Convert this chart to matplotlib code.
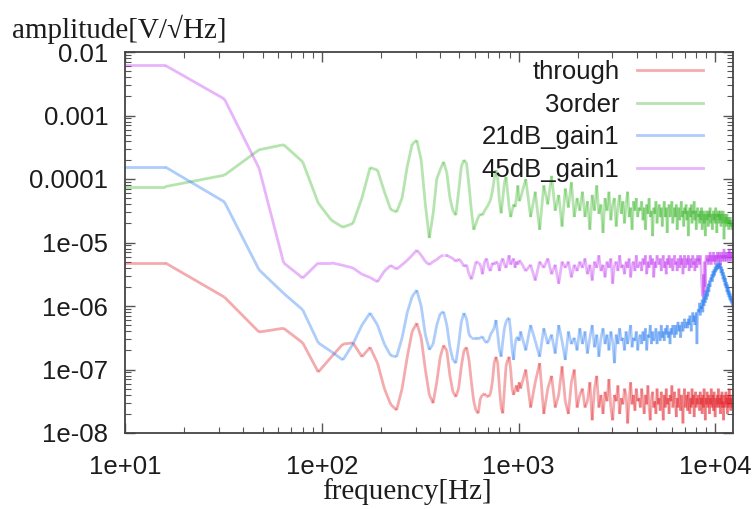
import numpy as np
import matplotlib
matplotlib.use("Agg")
import matplotlib.pyplot as plt
from matplotlib.collections import LineCollection
from matplotlib.lines import Line2D
from matplotlib.ticker import FixedLocator, FixedFormatter, LogLocator, NullFormatter

# ---------------- data (log10 of amplitude in V/sqrt(Hz)) ----------------
freq_low = [8] + list(range(16, 1024, 16))      # Hz
freq_high = list(range(1024, 12289, 64))        # Hz

through_low = [-5.32, -5.32, -5.86, -6.41, -6.35, -6.58, -7.04, -6.80, -6.60, -6.58,
               -6.80, -6.65, -6.90, -7.30, -7.55, -7.64, -7.30, -6.80, -6.40, -6.27,
               -6.50, -7.00, -7.40, -7.53, -7.20, -6.80, -6.62, -6.70, -7.10, -7.35,
               -7.43, -7.30, -6.95, -6.70, -6.65, -6.85, -7.20, -7.50, -7.65, -7.69,
               -7.45, -7.40, -7.38, -7.42, -7.43, -7.38, -7.20, -6.90, -6.80, -6.90,
               -7.30, -7.60, -7.69, -7.30, -6.95, -6.85, -6.80, -7.00, -7.30, -7.40,
               -7.32, -7.25, -7.35, -7.20]
through_high = [-7.3, -7.0, -7.6, -7.2, -6.9, -7.7, -7.3, -7.1, -7.6, -7.4, -6.95, -7.5, -7.7, -7.2, -7.0, -7.6, -7.4,
                -7.3, -7.6, -7.5, -7.2, -7.8, -7.3, -7.1, -7.6, -7.4, -7.7, -7.35, -7.5, -7.15, -7.6, -7.8, -7.4,
                -7.5, -7.25, -7.7, -7.45, -7.55, -7.3, -7.4, -7.85, -7.5, -7.2, -7.55, -7.4, -7.65, -7.3, -7.5, -7.45,
                -7.6, -7.3, -7.5, -7.7, -7.4, -7.55, -7.25, -7.6, -7.8, -7.45, -7.35, -7.6, -7.5, -7.7, -7.3, -7.55,
                -7.45, -7.65, -7.35, -7.5, -7.8, -7.4, -7.6, -7.3, -7.55, -7.45, -7.7, -7.4, -7.5, -7.25, -7.6, -7.5,
                -7.35, -7.55, -7.75, -7.45, -7.6, -7.3, -7.5, -7.65, -7.4, -7.55, -7.85, -7.45, -7.3, -7.6, -7.5, -7.4,
                -7.65, -7.35, -7.5, -7.7, -7.45, -7.6, -7.3, -7.55, -7.4, -7.75, -7.5, -7.35, -7.6, -7.45, -7.55, -7.4,
                -7.5, -7.65, -7.35, -7.55, -7.45, -7.7, -7.4, -7.6, -7.3, -7.5, -7.8, -7.45, -7.55, -7.35, -7.6, -7.5,
                -7.4, -7.7, -7.45, -7.55, -7.3, -7.6, -7.5, -7.4, -7.65, -7.35, -7.55, -7.75, -7.45, -7.5, -7.6, -7.4,
                -7.55, -7.3, -7.6, -7.5, -7.45, -7.7, -7.4, -7.55, -7.35, -7.6, -7.5, -7.8, -7.45, -7.4, -7.6, -7.5,
                -7.35, -7.55, -7.45, -7.7, -7.4, -7.6, -7.5, -7.3, -7.55, -7.45, -7.65, -7.4, -7.5, -7.6, -7.45, -7.5]

order3_low = [-4.12, -4.12, -3.94, -3.54, -3.46, -3.73, -4.38, -4.65, -4.76, -4.70,
              -4.30, -3.82, -3.86, -4.20, -4.48, -4.52, -4.30, -3.80, -3.45, -3.39,
              -3.70, -4.40, -4.93, -4.55, -4.00, -3.85, -3.73, -3.90, -4.30, -4.50,
              -4.57, -4.20, -3.80, -3.70, -3.75, -4.10, -4.50,
              -4.80, -4.70, -4.60, -4.55, -4.57, -4.50, -4.45, -4.40, -4.33, -4.20,
              -4.00, -3.86, -4.00, -4.35, -4.54, -4.30, -4.05, -3.97, -4.20, -4.45,
              -4.60, -4.50, -4.40, -4.44, -4.30, -4.10, -4.35]
order3_high = [-4.3, -4.0, -4.6, -4.2, -4.8, -4.1, -4.4, -3.95, -4.5, -4.25, -4.75, -4.15, -4.45, -4.05, -4.6, -4.3, -4.5,
               -4.2, -4.6, -4.35, -4.8, -4.25, -4.5, -4.1, -4.55, -4.4, -4.85, -4.3, -4.5, -4.2, -4.65, -4.4, -4.3,
               -4.75, -4.45, -4.25, -4.55, -4.35, -4.7, -4.4, -4.2, -4.6, -4.45, -4.8, -4.35, -4.5, -4.3, -4.6, -4.45,
               -4.5, -4.35, -4.65, -4.45, -4.8, -4.4, -4.55, -4.3, -4.6, -4.5, -4.9, -4.45, -4.55, -4.35, -4.7, -4.5,
               -4.4, -4.6, -4.45, -4.75, -4.5, -4.35, -4.6, -4.45, -4.85, -4.5, -4.4, -4.6, -4.5, -4.35, -4.7, -4.55,
               -4.45, -4.6, -4.4, -4.8, -4.55, -4.45, -4.65, -4.5, -4.35, -4.6, -4.5, -4.75, -4.45, -4.55, -4.4, -4.65,
               -4.5, -4.9, -4.55, -4.45, -4.6, -4.4, -4.7, -4.5, -4.55, -4.35, -4.65, -4.5, -4.8, -4.55, -4.45, -4.6,
               -4.55, -4.7, -4.5, -4.65, -4.45, -4.8, -4.6, -4.5, -4.7, -4.55, -4.9, -4.6, -4.5, -4.65, -4.55, -4.75,
               -4.5, -4.6, -4.45, -4.7, -4.6, -4.55, -4.8, -4.6, -4.5, -4.65, -4.55, -4.7, -4.45, -4.6, -4.85, -4.55,
               -4.6, -4.5, -4.7, -4.55, -4.65, -4.5, -4.75, -4.6, -4.55, -4.7, -4.5, -4.6, -4.95, -4.65, -4.55, -4.7,
               -4.6, -4.75, -4.55, -4.65, -4.7, -4.6, -4.8, -4.65, -4.7, -4.6, -4.75, -4.65, -4.7, -4.8, -4.7, -4.75]

gain21_low = [-3.81, -3.81, -4.36, -5.43, -5.80, -6.06, -6.58, -6.72, -6.85, -6.60,
              -6.30, -6.11, -6.30, -6.60, -6.78, -6.80, -6.50, -6.10, -5.85, -5.75,
              -6.00, -6.45, -6.69, -6.60, -6.30, -6.12, -6.09, -6.30, -6.65, -6.85,
              -6.90, -6.60, -6.25, -6.11, -6.20, -6.45, -6.50, -6.50, -6.50, -6.52,
              -6.50, -6.48, -6.55, -6.58, -6.55, -6.45,
              -6.40, -6.35, -6.22, -6.45, -6.70, -6.80, -6.55, -6.35, -6.25, -6.20,
              -6.19, -6.40, -6.70, -6.85, -6.60, -6.50, -6.49, -6.55]
gain21_high = [-6.4, -6.7, -6.3, -6.55, -6.8, -6.35, -6.6, -6.45, -6.75, -6.3, -6.55, -6.85, -6.4, -6.6, -6.5, -6.7, -6.35,
               -6.6, -6.4, -6.75, -6.5, -6.3, -6.65, -6.45, -6.8, -6.5, -6.35, -6.6, -6.45, -6.7, -6.4, -6.55, -6.9,
               -6.45, -6.6, -6.35, -6.55, -6.5, -6.7, -6.4, -6.6, -6.45, -6.3, -6.65, -6.5, -6.55, -6.4, -6.7, -6.5,
               -6.45, -6.6, -6.4, -6.55, -6.35, -6.7, -6.45, -6.5, -6.3, -6.6, -6.4, -6.55, -6.5, -6.35, -6.6, -6.45,
               -6.4, -6.55, -6.3, -6.5,
               -6.4, -6.55, -6.35, -6.45, -6.3, -6.5, -6.4, -6.6, -6.35, -6.45, -6.3, -6.4, -6.5, -6.3, -6.45, -6.35,
               -6.25, -6.4, -6.3, -6.5, -6.35, -6.25, -6.4, -6.3, -6.2, -6.35, -6.3,
               -6.25, -6.35, -6.2, -6.3, -6.15, -6.25, -6.4, -6.2, -6.1, -6.25, -6.15, -6.3, -6.2, -6.1, -6.6, -6.15,
               -6.05,
               -6.1, -5.95, -6.15, -6.0, -6.05, -5.9, -6.1, -5.85, -6.0, -5.8, -5.95, -5.75, -5.9, -5.7, -5.85, -5.65,
               -5.78, -5.6, -5.7, -5.55,
               -5.6, -5.5, -5.62, -5.45, -5.55, -5.42, -5.52, -5.38, -5.47, -5.35, -5.44, -5.33, -5.42, -5.3, -5.4, -5.33,
               -5.42, -5.33, -5.48, -5.38, -5.52, -5.42, -5.58, -5.47, -5.62, -5.52, -5.68, -5.56, -5.72, -5.62, -5.78,
               -5.66, -5.82, -5.7, -5.86, -5.76, -5.9, -5.8, -5.93, -5.84, -5.96, -5.88, -6.0, -5.95]

gain45_low = [-2.21, -2.21, -2.74, -3.83, -5.32, -5.56, -5.32, -5.32, -5.36, -5.40,
              -5.50, -5.55, -5.62, -5.45, -5.36, -5.42, -5.35, -5.28, -5.20, -5.12,
              -5.20, -5.30, -5.35, -5.30, -5.27, -5.22, -5.20, -5.20, -5.23, -5.25,
              -5.30, -5.26, -5.30, -5.38, -5.35, -5.50, -5.58, -5.45, -5.30, -5.32,
              -5.35, -5.50, -5.30, -5.25, -5.40, -5.45, -5.32, -5.35, -5.30, -5.32,
              -5.45, -5.30, -5.25, -5.35, -5.40, -5.30, -5.20, -5.35, -5.30, -5.25,
              -5.40, -5.30, -5.35, -5.28]
gain45_high = [-5.3, -5.45, -5.35, -5.6, -5.3, -5.4, -5.25, -5.5, -5.35, -5.65, -5.3, -5.4, -5.3, -5.55, -5.35, -5.45, -5.3,
               -5.4, -5.25, -5.5, -5.35, -5.6, -5.3, -5.4, -5.2, -5.45, -5.35, -5.55, -5.3, -5.4, -5.25, -5.65, -5.35,
               -5.3, -5.45, -5.2, -5.4, -5.35, -5.5, -5.3, -5.4, -5.25, -5.55, -5.35, -5.3, -5.45, -5.2, -5.4, -5.35,
               -5.3, -5.45, -5.25, -5.35, -5.2, -5.5, -5.3, -5.4, -5.2, -5.35, -5.25, -5.55, -5.3, -5.4, -5.2, -5.3,
               -5.35, -5.25, -5.45, -5.3, -5.2, -5.4, -5.3, -5.5, -5.25, -5.35, -5.2, -5.4, -5.3, -5.25, -5.45, -5.3,
               -5.2, -5.35, -5.3, -5.45, -5.25, -5.3, -5.4, -5.2, -5.35, -5.25, -5.5, -5.3, -5.2, -5.4, -5.3, -5.25,
               -5.35, -5.2, -5.45, -5.3, -5.25, -5.4, -5.3, -5.2, -5.35, -5.3, -5.45, -5.25, -5.3, -5.4, -5.2, -5.3,
               -5.25, -5.35, -5.2, -5.3, -5.6, -5.75, -5.85, -5.5, -5.8, -5.3, -5.7, -5.25, -5.2, -5.3, -5.25, -5.35,
               -5.2, -5.3, -5.15, -5.25, -5.35, -5.2, -5.3, -5.25, -5.15, -5.3, -5.2, -5.35, -5.25, -5.2, -5.3, -5.15,
               -5.25, -5.2, -5.3, -5.15, -5.25, -5.35, -5.2, -5.25, -5.15, -5.3, -5.2, -5.25, -5.1, -5.3, -5.2, -5.25,
               -5.15, -5.3, -5.2, -5.25, -5.15, -5.2, -5.3, -5.1, -5.25, -5.2, -5.15, -5.3, -5.2, -5.25, -5.15, -5.2]

series_names = ["through", "3order", "21dB_gain1", "45dB_gain1"]
series_low = [through_low, order3_low, gain21_low, gain45_low]
series_high = [through_high, order3_high, gain21_high, gain45_high]
series_colors = ["#e4232a", "#3fb82f", "#2a7df2", "#c43cf2"]

y_tick_values = [1e-8, 1e-7, 1e-6, 1e-5, 1e-4, 1e-3, 1e-2]
y_tick_labels = ["1e-08", "1e-07", "1e-06", "1e-05", "0.0001", "0.001", "0.01"]
x_tick_values = [1e1, 1e2, 1e3, 1e4]
x_tick_labels = ["1e+01", "1e+02", "1e+03", "1e+04"]

# ---------------- figure ----------------
W, H = 755, 509
fig = plt.figure(figsize=(W / 100, H / 100), dpi=100)
ax = fig.add_axes([125 / W, 1 - 433 / H, (733 - 125) / W, (433 - 52) / H])
ax.set_xscale("log")
ax.set_yscale("log")
ax.set_xlim(10, 12300)
ax.set_ylim(1e-8, 1e-2)

freq = np.array(freq_low + freq_high, dtype=float)
ALPHA = 0.38
handles = []
for name, lo, hi, col in zip(series_names, series_low, series_high, series_colors):
    vals = lo + hi
    assert len(vals) == len(freq), (name, len(lo), len(hi))
    amp = 10.0 ** np.array(vals)
    pts = np.column_stack([freq, amp])
    segs = np.stack([pts[:-1], pts[1:]], axis=1)
    lc = LineCollection(segs, colors=col, alpha=ALPHA, linewidths=2.0,
                        capstyle="butt", joinstyle="round")
    ax.add_collection(lc)
    handles.append(Line2D([], [], color=col, alpha=ALPHA, lw=2.0))

text_color = "#1c1c1c"
tick_font = dict(family=["Liberation Sans", "DejaVu Sans"], size=18.5)

ax.yaxis.set_major_locator(FixedLocator(y_tick_values))
ax.yaxis.set_major_formatter(FixedFormatter(y_tick_labels))
ax.xaxis.set_major_locator(FixedLocator(x_tick_values))
ax.xaxis.set_major_formatter(FixedFormatter(x_tick_labels))
ax.xaxis.set_minor_locator(LogLocator(base=10, subs=np.arange(2, 10), numticks=20))
ax.yaxis.set_minor_locator(LogLocator(base=10, subs=np.arange(2, 10), numticks=20))
ax.xaxis.set_minor_formatter(NullFormatter())
ax.yaxis.set_minor_formatter(NullFormatter())

ax.tick_params(which="both", direction="in", top=True, right=True, color="#555555")
ax.tick_params(which="major", length=7, width=1.0)
ax.tick_params(which="minor", length=4, width=0.8)
ax.tick_params(axis="x", which="major", pad=16)
ax.tick_params(axis="y", which="major", pad=12)
for lab in ax.get_xticklabels() + ax.get_yticklabels():
    lab.set_fontfamily(tick_font["family"])
    lab.set_fontsize(tick_font["size"])
    lab.set_color(text_color)

for sp in ax.spines.values():
    sp.set_color("#444444")
    sp.set_linewidth(1.3)

serif = ["Liberation Serif", "DejaVu Serif"]
fig.text(12 / W, 1 - 29 / H, "amplitude[V/\u221aHz]", family=serif, size=21,
         ha="left", va="center", color=text_color)
fig.text(407 / W, 1 - 492 / H, "frequency[Hz]", family=serif, size=21,
         ha="center", va="center", color=text_color)

leg = ax.legend(handles, series_names, loc="upper right",
                bbox_to_anchor=((703 - 125) / 608, (433 - 60) / 381),
                markerfirst=False, frameon=False,
                prop=dict(family=["Liberation Sans", "DejaVu Sans"], size=18.5),
                handlelength=2.55, handletextpad=0.7, labelspacing=0.34,
                borderpad=0.0, borderaxespad=0.0)
for t in leg.get_texts():
    t.set_color(text_color)

fig.savefig("out.png", dpi=100)
